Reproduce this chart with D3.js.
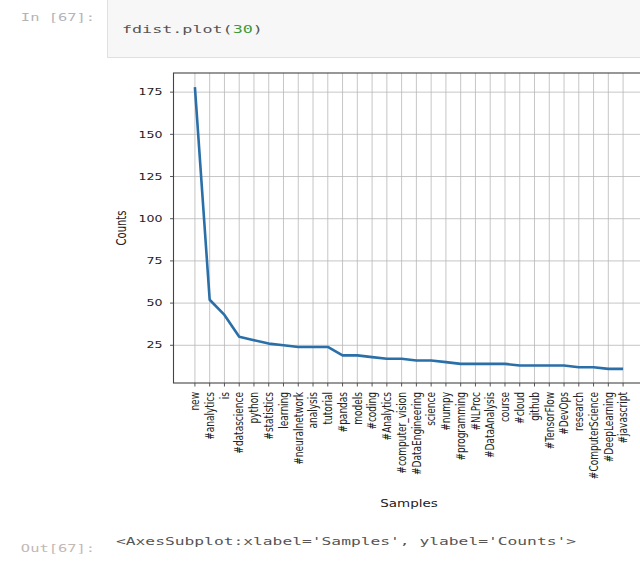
<!DOCTYPE html>
<html>
<head>
<meta charset="utf-8">
<script src="https://cdn.jsdelivr.net/npm/d3@7"></script>
<style>
  html, body { margin: 0; padding: 0; background: #fff; }
  svg { display: block; }
</style>
</head>
<body>
<svg id="nb" width="640" height="561"></svg>
<script>
// Top 30 tokens of the frequency distribution, most common first
const samples = [
  "new", "#analytics", "is", "#datascience", "python", "#statistics",
  "learning", "#neuralnetwork", "analysis", "tutorial", "#pandas", "models",
  "#coding", "#Analytics", "#computer_vision", "#DataEngineering", "science",
  "#numpy", "#programming", "#NLProc", "#DataAnalysis", "course", "#cloud",
  "github", "#TensorFlow", "#DevOps", "research", "#ComputerScience",
  "#DeepLearning", "#javascript"
];
const counts = [
  178, 52, 43, 30, 28, 26, 25, 24, 24, 24, 19, 19, 18, 17, 17,
  16, 16, 15, 14, 14, 14, 14, 13, 13, 13, 13, 12, 12, 11, 11
];
const yTicks = [25, 50, 75, 100, 125, 150, 175];

(function () {
const svg = d3.select("#nb");
const SX = 1.38; // glyphs in this notebook view are rendered wide

// text helper: horizontally widened glyphs
function wideText(g, x, y, str, opts) {
  const t = g.append("text")
    .attr("transform", `translate(${x},${y}) scale(${opts.sx || SX},1)` + (opts.rotate ? ` rotate(${opts.rotate})` : ""))
    .attr("font-family", opts.family || "DejaVu Sans, sans-serif")
    .attr("font-size", opts.size)
    .attr("fill", opts.fill || "#333")
    .attr("text-anchor", opts.anchor || "start")
    .attr("dy", opts.dy || "0.35em");
  return t.text(str);
}

// ---- input cell ----
svg.append("rect").attr("x", 107.5).attr("y", -1).attr("width", 540).attr("height", 58.5)
  .attr("fill", "#f7f7f7").attr("stroke", "#e0e0e0");
wideText(svg, 95, 17, "In [67]:", {family: "DejaVu Sans Mono, monospace", size: 11, anchor: "end", fill: "#b4b4b8", sx: 1.4});
const code = wideText(svg, 122, 29, "", {family: "DejaVu Sans Mono, monospace", size: 11, fill: "#555", sx: 1.52});
code.append("tspan").text("fdist.plot(");
code.append("tspan").attr("fill", "#3c9a3c").text("30");
code.append("tspan").text(")");

// ---- plot ----
const pL = 173.5, pR = 644.5, pT = 73, pB = 383;
const n = counts.length;
const xm = (n - 1) * 0.05;
const x = d3.scaleLinear().domain([-xm, n - 1 + xm]).range([pL, pR]);
const [ymin, ymax] = d3.extent(counts);
const ym = (ymax - ymin) * 0.05;
const y = d3.scaleLinear().domain([ymin - ym, ymax + ym]).range([pB, pT]);

const plot = svg.append("g");

// grid
plot.append("g").selectAll("line").data(d3.range(n)).join("line")
  .attr("x1", i => x(i)).attr("x2", i => x(i)).attr("y1", pT).attr("y2", pB)
  .attr("stroke", "#b8b8b8").attr("stroke-width", 0.8);
plot.append("g").selectAll("line").data(yTicks).join("line")
  .attr("x1", pL).attr("x2", pR).attr("y1", d => y(d)).attr("y2", d => y(d))
  .attr("stroke", "#b8b8b8").attr("stroke-width", 0.8);

// data line
plot.append("path")
  .datum(counts)
  .attr("fill", "none")
  .attr("stroke", "#2a6fa8")
  .attr("stroke-width", 2.6)
  .attr("stroke-linejoin", "round")
  .attr("d", d3.line().x((d, i) => x(i)).y(d => y(d)));

// axes frame
plot.append("rect").attr("x", pL).attr("y", pT).attr("width", pR - pL).attr("height", pB - pT)
  .attr("fill", "none").attr("stroke", "#444").attr("stroke-width", 1.1);

// y axis ticks + labels
const yAxis = plot.append("g");
yAxis.selectAll("line").data(yTicks).join("line")
  .attr("x1", pL - 3.5).attr("x2", pL).attr("y1", d => y(d)).attr("y2", d => y(d))
  .attr("stroke", "#444").attr("stroke-width", 0.9);
yTicks.forEach(v => wideText(yAxis, pL - 11, y(v), String(v), {size: 9, anchor: "end", fill: "#222", sx: 1.4}));

// x axis ticks + rotated labels
const xAxis = plot.append("g");
xAxis.selectAll("line").data(d3.range(n)).join("line")
  .attr("x1", i => x(i)).attr("x2", i => x(i)).attr("y1", pB).attr("y2", pB + 3.5)
  .attr("stroke", "#444").attr("stroke-width", 0.9);
samples.forEach((s, i) => wideText(xAxis, x(i), pB + 9, s, {size: 9, anchor: "end", rotate: -90, fill: "#222", sx: 1.35}));

// axis titles
wideText(plot, 409, 503, "Samples", {size: 10, anchor: "middle", fill: "#222", sx: 1.35});
wideText(plot, 121, (pT + pB) / 2, "Counts", {size: 10, anchor: "middle", rotate: -90, fill: "#222", sx: 1.35});

// ---- output prompt ----
wideText(svg, 95, 548, "Out[67]:", {family: "DejaVu Sans Mono, monospace", size: 11, anchor: "end", fill: "#c2b8b6", sx: 1.4});
wideText(svg, 116, 541, "<AxesSubplot:xlabel='Samples', ylabel='Counts'>", {family: "DejaVu Sans Mono, monospace", size: 11, fill: "#555", sx: 1.48});
})();
</script>
</body>
</html>
